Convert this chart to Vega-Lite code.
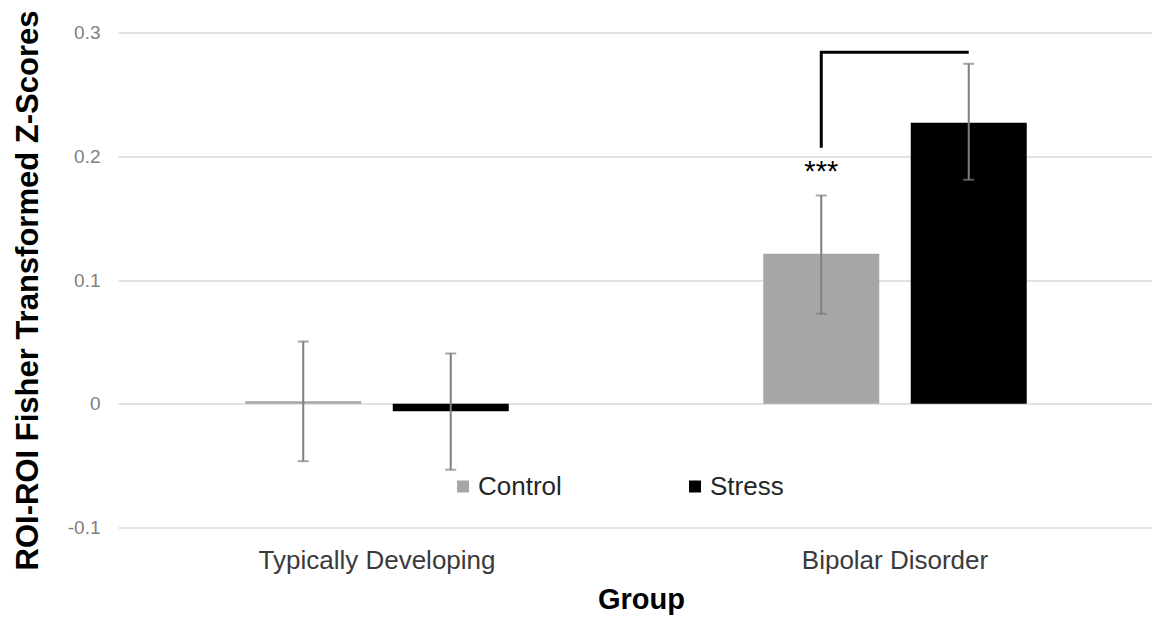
{
  "$schema": "https://vega.github.io/schema/vega-lite/v6.json",
  "width": 1036,
  "height": 495,
  "autosize": "none",
  "padding": {"left": 118, "top": 32.5, "right": 0, "bottom": 90.5},
  "background": "white",
  "config": {"font": "Liberation Sans", "view": {"stroke": null}},
  "datasets": {
    "bars": [
      {"group": "Typically Developing", "condition": "Control", "mean": 0.002, "lo": -0.0464, "hi": 0.0503},
      {"group": "Typically Developing", "condition": "Stress", "mean": -0.006, "lo": -0.0533, "hi": 0.0406},
      {"group": "Bipolar Disorder", "condition": "Control", "mean": 0.1213, "lo": 0.0727, "hi": 0.1683},
      {"group": "Bipolar Disorder", "condition": "Stress", "mean": 0.2271, "lo": 0.181, "hi": 0.2747}
    ],
    "bracket": [
      {"group": "Bipolar Disorder", "condition": "Control", "y": 0.2069, "order": 1},
      {"group": "Bipolar Disorder", "condition": "Control", "y": 0.2841, "order": 2},
      {"group": "Bipolar Disorder", "condition": "Stress", "y": 0.2841, "order": 3}
    ],
    "sig": [
      {"group": "Bipolar Disorder", "condition": "Control", "y": 0.18, "label": "***"}
    ]
  },
  "encoding": {
    "x": {
      "field": "group",
      "type": "nominal",
      "sort": ["Typically Developing", "Bipolar Disorder"],
      "scale": {"paddingInner": 0, "paddingOuter": 0},
      "title": "Group",
      "axis": {
        "orient": "bottom",
        "labelAngle": 0,
        "labelFontSize": 26,
        "labelColor": "#3a3a3a",
        "labelPadding": 20,
        "labelLimit": 0,
        "ticks": false,
        "domain": false,
        "grid": false,
        "titleFontSize": 29,
        "titleFontWeight": "bold",
        "titleColor": "#000000",
        "titleX": 523,
        "titleY": 58,
        "titleBaseline": "top",
        "titleAlign": "center"
      }
    },
    "xOffset": {
      "field": "condition",
      "type": "nominal",
      "sort": ["Control", "Stress"],
      "scale": {"paddingInner": 0.2136, "paddingOuter": 0.863}
    }
  },
  "layer": [
    {
      "data": {"name": "bars"},
      "mark": {"type": "bar", "strokeWidth": 0},
      "encoding": {
        "y": {
          "field": "mean",
          "type": "quantitative",
          "scale": {"domain": [-0.1, 0.3], "nice": false, "zero": true},
          "title": "ROI-ROI Fisher Transformed Z-Scores",
          "axis": {
            "values": [-0.1, 0, 0.1, 0.2, 0.3],
            "labelExpr": "toString(round(datum.value*10)/10)",
            "labelFontSize": 19,
            "labelColor": "#7f7f7f",
            "labelPadding": 18,
            "ticks": false,
            "domain": false,
            "grid": true,
            "gridColor": "#d9d9d9",
            "gridWidth": 1.5,
            "titleFontSize": 31,
            "titleFontWeight": "bold",
            "titleColor": "#000000",
            "titleX": -90,
            "titleY": 257.5,
            "titleAngle": 270,
            "titleAlign": "center",
            "titleBaseline": "middle",
            "titleLimit": 0
          }
        },
        "color": {
          "field": "condition",
          "type": "nominal",
          "sort": ["Control", "Stress"],
          "scale": {"domain": ["Control", "Stress"], "range": ["#a6a6a6", "#000000"]},
          "legend": {
            "title": null,
            "orient": "none",
            "legendX": 332,
            "legendY": 441,
            "direction": "horizontal",
            "symbolType": "square",
            "symbolSize": 144,
            "symbolStrokeWidth": 0,
            "labelFontSize": 26,
            "labelColor": "#262626",
            "labelOffset": 2,
            "columnPadding": 120
          }
        }
      }
    },
    {
      "data": {"name": "bars"},
      "mark": {"type": "rule", "color": "#7f7f7f", "strokeWidth": 2},
      "encoding": {
        "y": {"field": "lo", "type": "quantitative"},
        "y2": {"field": "hi"}
      }
    },
    {
      "data": {"name": "bars"},
      "mark": {"type": "tick", "color": "#7f7f7f", "thickness": 2, "size": 11, "orient": "horizontal"},
      "encoding": {
        "y": {"field": "lo", "type": "quantitative"}
      }
    },
    {
      "data": {"name": "bars"},
      "mark": {"type": "tick", "color": "#7f7f7f", "thickness": 2, "size": 11, "orient": "horizontal"},
      "encoding": {
        "y": {"field": "hi", "type": "quantitative"}
      }
    },
    {
      "data": {"name": "bracket"},
      "mark": {"type": "line", "color": "#000000", "strokeWidth": 3, "strokeJoin": "miter"},
      "encoding": {
        "y": {"field": "y", "type": "quantitative"},
        "order": {"field": "order", "type": "quantitative"}
      }
    },
    {
      "data": {"name": "sig"},
      "mark": {"type": "text", "fontSize": 29, "color": "#000000", "baseline": "alphabetic", "align": "center"},
      "encoding": {
        "y": {"field": "y", "type": "quantitative"},
        "text": {"field": "label"}
      }
    }
  ]
}
